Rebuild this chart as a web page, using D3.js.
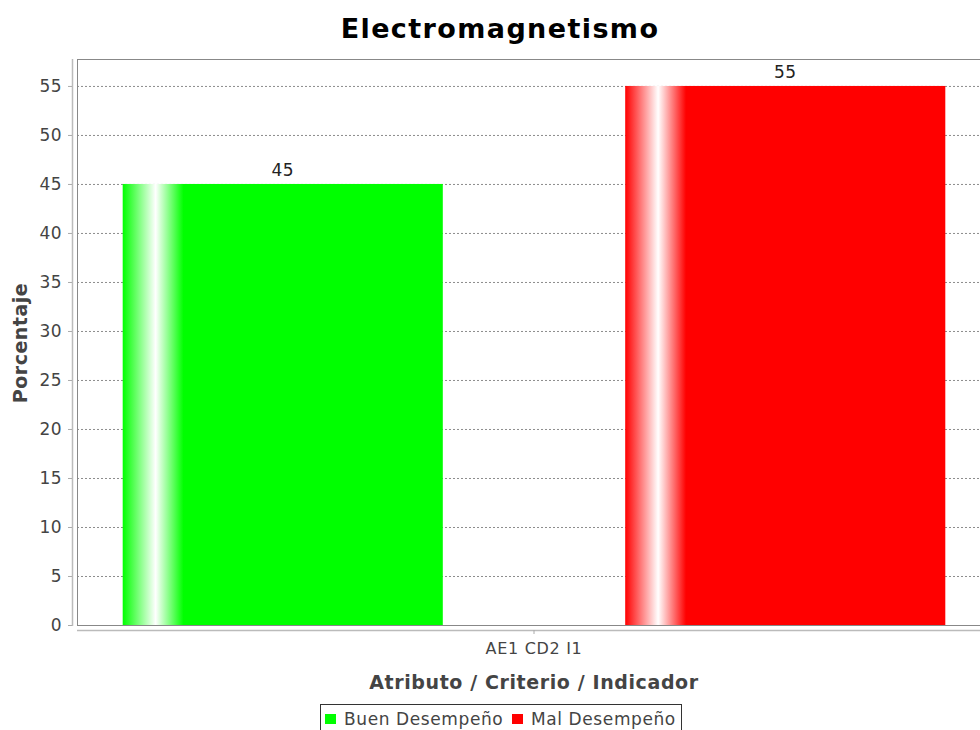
<!DOCTYPE html>
<html><head><meta charset="utf-8">
<script src="https://cdn.jsdelivr.net/npm/d3@7"></script>
<style>body{margin:0;background:#fff;} svg{display:block;} text{font-family:"DejaVu Sans",sans-serif;}</style>
</head><body>
<svg id="c" width="980" height="730"></svg>
<script>
const title = "Electromagnetismo";
const categories = ["AE1 CD2 I1"];
const series = ["Buen Desempeño", "Mal Desempeño"];
const values = [45, 55];
const colors = ["#00ff00", "#ff0000"];
const yTicks = [0,5,10,15,20,25,30,35,40,45,50,55];
const yTitle = "Porcentaje";
const xTitle = "Atributo / Criterio / Indicador";

const svg = d3.select("#c");
const L = 77, R = 991, T = 59, B = 625;
const y = d3.scaleLinear().domain([0, 57.75]).range([B, T]);
const x0 = d3.scaleBand().domain(categories).range([L, R]).paddingOuter(0).paddingInner(0);
const catStart = L + (R-L)*0.05, catEnd = R - (R-L)*0.05;
const x1 = d3.scaleBand().domain(series).range([catStart, catEnd]).paddingInner(0.363).paddingOuter(0);

const defs = svg.append("defs");
colors.forEach((c,i)=>{
  const g = defs.append("linearGradient").attr("id","g"+i).attr("x1","0").attr("x2","1").attr("y1","0").attr("y2","0");
  g.append("stop").attr("offset","0%").attr("stop-color",c);
  g.append("stop").attr("offset","10.3%").attr("stop-color","#ffffff");
  g.append("stop").attr("offset","19%").attr("stop-color",c);
  g.append("stop").attr("offset","100%").attr("stop-color",c);
});

// gridlines
svg.append("g").selectAll("line").data(yTicks).join("line")
  .attr("x1", L).attr("x2", R).attr("y1", d=>y(d)+0.5).attr("y2", d=>y(d)+0.5)
  .attr("stroke","#8c8c8c").attr("stroke-width",1).attr("stroke-dasharray","2,2");

// bars
svg.append("g").selectAll("rect").data(values).join("rect")
  .attr("x",(d,i)=>x1(series[i])).attr("width",x1.bandwidth())
  .attr("y",d=>y(d)).attr("height",d=>B-y(d))
  .attr("fill",(d,i)=>`url(#g${i})`);

// value labels
svg.append("g").selectAll("text").data(values).join("text")
  .attr("x",(d,i)=>x1(series[i])+x1.bandwidth()/2).attr("y",d=>y(d)-8)
  .attr("text-anchor","middle").attr("font-size",17).attr("letter-spacing",0.4).attr("fill","#222").text(d=>d);

// plot outline
svg.append("rect").attr("x",L+0.5).attr("y",T+0.5).attr("width",R-L).attr("height",B-T)
  .attr("fill","none").attr("stroke","#888").attr("stroke-width",1);

// y axis
const ya = svg.append("g").attr("transform",`translate(72,0)`)
  .call(d3.axisLeft(y).tickValues(yTicks).tickSize(4).tickPadding(6).tickFormat(d3.format("d")));
ya.select(".domain").attr("stroke","#bbb").attr("stroke-width",1.5).attr("d",`M0.5,${T}V${B+1}`);
ya.selectAll(".tick line").attr("stroke","#aaa");
ya.selectAll(".tick text").attr("font-size",17).attr("letter-spacing",0.4).attr("fill","#444").attr("font-family","DejaVu Sans");

// x axis
const xa = svg.append("g").attr("transform",`translate(0,630)`)
  .call(d3.axisBottom(x0).tickSize(4).tickPadding(9));
xa.select(".domain").attr("stroke","#bbb").attr("stroke-width",1.5).attr("d",`M${L},0.5H${R}`);
xa.selectAll(".tick line").attr("stroke","#aaa");
xa.selectAll(".tick text").attr("font-size",16).attr("letter-spacing",0.7).attr("fill","#444").attr("font-family","DejaVu Sans");

// titles
svg.append("text").attr("x",500).attr("y",38).attr("text-anchor","middle")
  .attr("font-size",27).attr("letter-spacing",1.4).attr("font-weight","bold").attr("fill","#000").text(title);
svg.append("text").attr("x",534).attr("y",689).attr("text-anchor","middle")
  .attr("font-size",19).attr("letter-spacing",0.6).attr("font-weight","bold").attr("fill","#444").text(xTitle);
svg.append("text").attr("transform",`translate(27,343) rotate(-90)`).attr("text-anchor","middle")
  .attr("font-size",19).attr("letter-spacing",0.5).attr("font-weight","bold").attr("fill","#444").text(yTitle);

// legend
const lg = svg.append("g");
lg.append("rect").attr("x",320.5).attr("y",704.5).attr("width",361).attr("height",40)
  .attr("fill","#fff").attr("stroke","#333").attr("stroke-width",1);
const lx = [325, 512];
series.forEach((s,i)=>{
  lg.append("rect").attr("x",lx[i]).attr("y",714).attr("width",11).attr("height",10).attr("fill",colors[i]);
  lg.append("text").attr("x",lx[i]+19).attr("y",724.5).attr("font-size",17).attr("letter-spacing",0.6).attr("fill","#444").text(s);
});
</script>
</body></html>
